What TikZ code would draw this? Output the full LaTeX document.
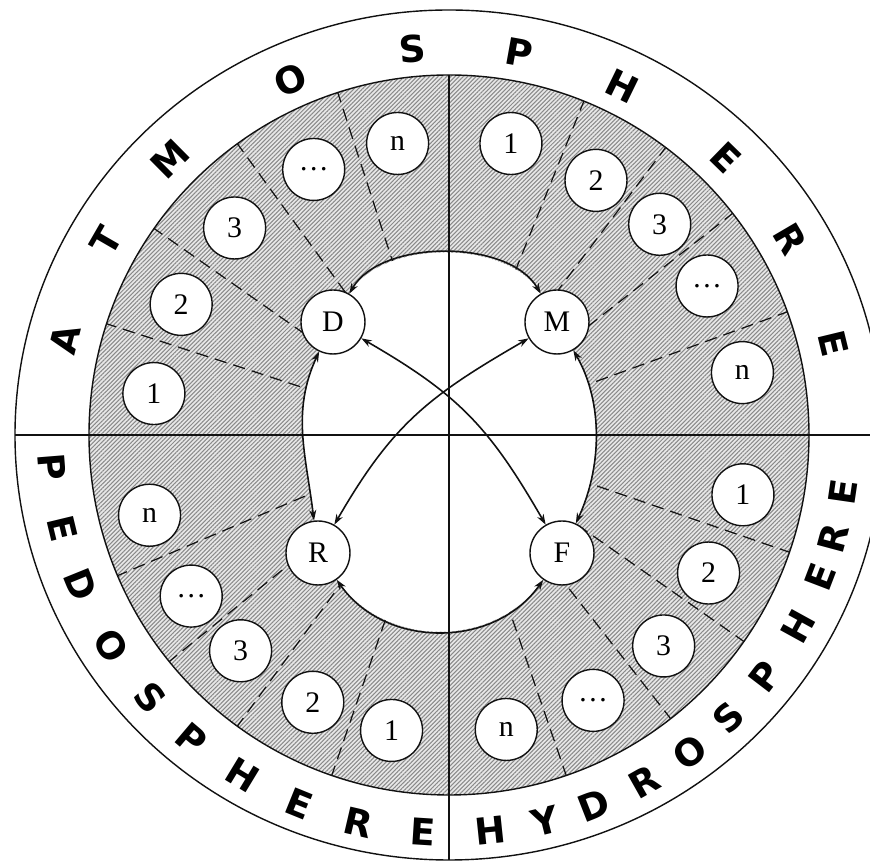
\documentclass[tikz,border=0pt]{standalone}
\usepackage{fontspec}
\setmainfont{Liberation Serif}
\newfontfamily\bandfont{DejaVu Sans}
\usetikzlibrary{arrows.meta,patterns.meta,backgrounds}
\definecolor{cInk}{HTML}{111111}
\definecolor{cHatch}{HTML}{8A8A8A}
\definecolor{cWash}{HTML}{E8E8E8}
\begin{document}
\begin{tikzpicture}[x=0.02cm, y=0.02cm,
  ring/.style={draw=cInk, line width=0.8pt},
  hatch/.style={pattern={Lines[angle=45,distance=1.7pt,line width=0.6pt]},
    pattern color=cHatch},
  divider/.style={draw=cInk, line width=0.7pt, dash pattern=on 7pt off 4pt},
  axisline/.style={draw=cInk, line width=1.6pt},
  hub/.style={circle, draw=cInk, line width=0.8pt, fill=white,
    minimum size=1.28cm, inner sep=0pt, font=\fontsize{17}{17}\selectfont},
  item/.style={hub, minimum size=1.24cm},
  flow/.style={{Stealth[length=6pt,width=4pt]}-{Stealth[length=6pt,width=4pt]},
    line width=0.9pt, draw=cInk},
  sphere/.style={font=\bandfont\bfseries\fontsize{21}{21}\selectfont,
    inner sep=0pt},
]
\useasboundingbox (-449,-426) rectangle (421,435);
\clip (-449,-426) rectangle (421,435);
% ---------------------------------------------------------------- hubs
\node[hub] (D) at (-116,113) {D};
\node[hub] (M) at (108,113) {M};
\node[hub] (R) at (-131,-118) {R};
\node[hub] (F) at (113,-118) {F};
% ---------------------------------------------------------------- items
\node[item] (d1) at (172:298) {1};
\node[item] (d2) at (154:298) {2};
\node[item] (d3) at (136:298) {3};
\node[item] (dd) at (117:298) {\dots};
\node[item] (dn) at (100:296) {n};
\node[item] (m1) at (78:298) {1};
\node[item] (m2) at (60:294) {2};
\node[item] (m3) at (45:298) {3};
\node[item] (md) at (30:298) {\dots};
\node[item] (mn) at (12:300) {n};
\node[item] (r1) at (259:301) {1};
\node[item] (r2) at (243:300) {2};
\node[item] (r3) at (226:300) {3};
\node[item] (rd) at (212:304) {\dots};
\node[item] (rn) at (195:310) {n};
\node[item] (f1) at (348.5:300) {1};
\node[item] (f2) at (332:294) {2};
\node[item] (f3) at (315.5:301) {3};
\node[item] (fd) at (298.5:302) {\dots};
\node[item] (fn) at (281:300) {n};
% ---------------------------------------------------------------- rings
\begin{scope}[on background layer]
  \draw[ring, fill=white] (0,0) ellipse[x radius=434, y radius=425];
  \fill[cWash] (0,0) circle[radius=360];
  \fill[hatch] (0,0) circle[radius=360];
  \draw[ring] (0,0) circle[radius=360];
  \foreach \a in {108,126,145,162,20,38,53,68,203,219,234,251,289,308,325,341}
    \draw[divider] (\a:60) -- (\a:360);
  \fill[white] (D.60) to[out=60, in=120, looseness=0.85] (M.120) -- (M.300)
    to[out=300, in=65, looseness=0.9] (F.65) -- (F.235)
    to[out=235, in=-55, looseness=1.05] (R.-55) -- (R.97)
    to[out=97, in=245] (D.245) -- cycle;
\end{scope}
\draw[axisline] (-434,0) -- (434,0);
\draw[axisline, line width=1.2pt] (0,360) -- (0,-425);
% ---------------------------------------------------------------- arrows
\draw[flow] (D) to[out=60, in=120, looseness=0.85] (M);
\draw[flow] (M) to[out=300, in=65, looseness=0.9] (F);
\draw[flow] (R) to[out=-55, in=235, looseness=1.05] (F);
\draw[flow] (D) to[out=245, in=97] (R);
\draw[flow] (D) to[out=-30, in=120, looseness=1.1] (F);
\draw[flow] (M) to[out=210, in=60, looseness=1.1] (R);
% ---------------------------------------------------------------- band text
\foreach \a/\l [count=\i] in {165.8/A,150/T,134.7/M,113.6/O,95.3/S,79.8/P,
    64/H,45.7/E,30.4/R,13.6/E}
  \node[sphere, rotate=\a-90] (atm\i) at (\a:396 and 388) {\l};
\foreach \a/\l [count=\i] in {184.6/P,193.6/E,202.1/D,211.9/O,221.3/S,
    229.7/P,238.8/H,247.9/E,256.9/R,266.3/E}
  \node[sphere, rotate=\a+90] (ped\i) at (\a:398) {\l};
\foreach \a/\l [count=\i] in {276/H,284/Y,291.4/D,299.4/R,307.2/O,314.7/S,
    322.6/P,331.2/H,339.1/E,345/R,351.7/E}
  \node[sphere, rotate=\a+90] (hyd\i) at (\a:398) {\l};
\end{tikzpicture}
\end{document}
